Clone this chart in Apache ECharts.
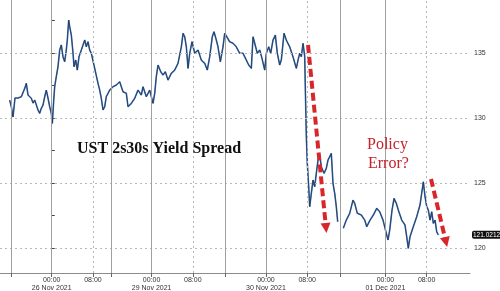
<!DOCTYPE html>
<html>
<head>
<meta charset="utf-8">
<script src="https://cdn.jsdelivr.net/npm/echarts@6/dist/echarts.min.js"></script>
<style>html,body{margin:0;padding:0;background:#fff}#c{width:500px;height:291px}</style>
</head>
<body>
<div id="c"></div>
<script>
// compressed session hours (0 = 26 Nov 2021 00:00)
const times = [-8.16,-7.84,-7.51,-7.13,-6.54,-5.90,-5.24,-4.93,-4.60,-3.96,-3.63,-3.30,-2.66,-2.33,-2.02,-1.69,-1.36,-1.05,-0.72,-0.39,-0.08,0.12,0.39,0.58,0.89,1.22,1.55,1.86,2.19,2.52,2.83,3.03,3.30,3.50,3.81,4.14,4.33,4.66,4.97,5.30,5.75,6.08,6.41,6.72,7.05,7.38,7.69,8.35,8.99,9.32,9.63,9.96,10.29,10.60,11.26,11.90,12.54,13.20,13.84,14.49,14.82,15.46,16.12,16.76,17.40,17.73,18.37,19.03,19.67,20.00,20.31,20.64,21.17,21.61,22.06,22.58,23.22,23.88,24.52,25.17,25.50,25.83,26.14,26.47,26.80,27.24,27.77,28.41,29.05,29.71,30.21,30.68,31.18,31.51,31.96,32.29,32.74,33.26,33.59,33.90,34.56,35.20,35.84,36.50,37.15,37.79,38.25,38.76,39.09,39.42,39.92,40.39,40.83,41.36,41.67,42.14,42.52,42.97,43.42,43.81,44.27,44.58,45.11,45.55,46.21,46.85,47.50,47.83,48.16,48.47,48.80,49.13,49.24,49.44,49.63,49.90,50.10,50.41,50.74,51.07,51.38,51.71,52.04,52.35,52.87,53.32,53.65,54.29,54.62,54.95,55.26,55.53,56.00,56.62,57.20,57.86,58.50,58.83,59.34,60.12,60.78,61.17,61.81,62.45,63.11,63.69,64.33,64.97,65.30,65.63,66.08,66.47,66.91,67.30,67.96,68.60,68.93,69.24,69.57,70.21,70.87,71.51,71.84,72.16,72.49,72.82,73.13,73.46,73.79,74.10,74.43,74.76,75.07];
const spread = [131.38,130.87,130.08,131.54,131.54,131.64,132.28,132.67,131.77,131.52,131.15,131.38,130.62,130.36,130.75,131.00,131.64,132.15,131.54,130.87,130.36,129.59,131.38,132.41,133.18,133.95,135.23,135.62,134.72,134.33,135.23,136.00,137.54,137.02,136.38,134.98,133.95,134.46,133.69,134.72,135.23,135.62,136.00,135.48,135.87,135.23,134.98,133.82,132.67,132.15,131.52,130.62,130.87,131.64,132.15,132.41,132.54,132.79,132.02,131.90,130.87,131.13,131.52,132.15,131.77,132.41,131.64,132.15,131.13,131.90,133.18,134.08,133.56,133.31,133.56,132.92,133.44,133.69,134.21,135.48,136.52,136.25,135.48,133.82,134.98,135.87,134.98,135.23,134.46,134.21,133.69,134.72,136.25,136.64,136.00,135.48,134.33,135.48,136.52,136.38,135.87,135.75,135.48,134.98,134.98,134.46,134.08,133.82,136.25,135.75,134.98,135.23,134.59,133.69,134.98,135.48,134.98,136.00,136.38,134.98,134.08,134.46,136.52,136.00,135.48,134.72,133.82,134.46,134.98,134.72,135.75,134.72,132.41,128.56,126.52,124.72,123.18,124.21,125.23,124.72,125.75,126.77,127.15,126.25,125.75,126.13,126.77,127.28,124.98,124.21,123.18,122.02,null,121.52,122.15,122.67,123.69,123.44,122.67,122.54,122.15,121.64,122.15,122.54,123.05,122.79,122.15,121.13,120.62,121.38,122.92,123.82,123.44,122.92,122.15,121.77,120.87,119.98,120.87,121.64,122.41,123.31,124.21,125.10,123.95,123.18,122.92,122.15,122.79,121.90,122.15,121.25,121.0212];

const tickTimes = [0, 8, 19.4, 27.4, 41.6, 49.6, 64.8, 72.8];
const tickLabels = ['00:00\n26 Nov 2021', '08:00', '00:00\n29 Nov 2021', '08:00', '00:00\n30 Nov 2021', '08:00', '00:00\n01 Dec 2021', '08:00'];
const sessionBreaks = [-7.9, 11.5, 33.65, 56.0];
const yLabels = [120, 125, 130, 135];
const yMinorTicks = [120, 122.5, 125, 127.5, 130, 132.5, 135, 137.5];
// annotation arrows [startTime, startValue, endTime, endValue]
const arrows = [[49.77, 135.62, 53.26, 121.54], [73.65, 125.31, 76.56, 120.46]];
const lastValue = spread[spread.length - 1];

const data = times.map((t, i) => [t, spread[i]]);
const solidX = tickTimes.filter((t, i) => tickLabels[i].startsWith('00:00')).concat(sessionBreaks);
const dottedX = tickTimes.filter((t, i) => !tickLabels[i].startsWith('00:00'));

const chart = echarts.init(document.getElementById('c'), null, {renderer: 'canvas'});
chart.setOption({
  animation: false,
  backgroundColor: '#fff',
  grid: {left: 0, right: 30, top: 0, bottom: 18, outerBoundsMode: 'none', containLabel: false},
  xAxis: {
    type: 'value', min: -10.04, max: 81.22,
    axisLine: {show: true, lineStyle: {color: '#8c8c8c', width: 1}},
    axisTick: {show: true, customValues: tickTimes.concat(sessionBreaks), length: 4, lineStyle: {color: '#666'}},
    axisLabel: {
      customValues: tickTimes, fontSize: 7, color: '#333', lineHeight: 8, margin: 3,
      fontFamily: 'Liberation Sans',
      formatter: v => { const i = tickTimes.findIndex(t => Math.abs(t - v) < 1e-6); return i >= 0 ? tickLabels[i] : ''; }
    },
    splitLine: {show: false}
  },
  yAxis: [
    {
      type: 'value', position: 'right', min: 118.08, max: 139.08,
      axisLine: {show: true, lineStyle: {color: '#8c8c8c', width: 1}},
      axisTick: {show: true, customValues: yMinorTicks, length: 3, lineStyle: {color: '#444'}},
      axisLabel: {customValues: yLabels, fontSize: 7, color: '#333', margin: 4, fontFamily: 'Liberation Sans'},
      splitLine: {show: false}
    },
    {
      type: 'value', position: 'right', offset: 0, min: 118.08, max: 139.08,
      axisLine: {show: false}, axisTick: {show: false}, splitLine: {show: false},
      axisLabel: {
        customValues: [lastValue], formatter: v => v.toFixed(4), margin: 2,
        fontSize: 6.5, color: '#fff', backgroundColor: '#111', padding: [1, 1, 0, 1],
        borderRadius: 2, fontFamily: 'Liberation Sans'
      }
    }
  ],
  series: [
    {
      type: 'line', data: data, showSymbol: false, symbol: 'none', connectNulls: false,
      lineStyle: {color: '#4274b8', width: 1.6}, z: 3,
      markLine: {
        silent: true, symbol: 'none', animation: false,
        label: {show: false},
        data: yLabels.map(v => ({yAxis: v, lineStyle: {color: '#b8b8b8', type: [2, 3], width: 1}}))
          .concat(solidX.map(v => ({xAxis: v, lineStyle: {color: '#a0a0a0', type: 'solid', width: 1}})))
          .concat(dottedX.map(v => ({xAxis: v, lineStyle: {color: '#b8b8b8', type: [2, 3], width: 1}})))
      }
    },
    {
      type: 'line', data: data, showSymbol: false, symbol: 'none', connectNulls: false,
      lineStyle: {color: '#1a2432', width: 0.7, opacity: 0.85}, z: 4
    },
    {
      type: 'line', data: [], z: 6,
      markLine: {
        silent: true, animation: false, symbol: ['none', 'triangle'], symbolSize: [10, 10],
        label: {show: false},
        lineStyle: {color: '#d8262d', width: 4, type: [8, 4]},
        data: arrows.map(a => [{coord: [a[0], a[1]]}, {coord: [a[2], a[3]]}])
      }
    }
  ],
  graphic: [
    {type: 'text', left: 77, top: 141, z: 10, style: {text: 'UST 2s30s Yield Spread', font: 'bold 16px "Liberation Serif"', fill: '#111'}},
    {type: 'text', left: 367, top: 137, z: 10, style: {text: 'Policy', font: '16px "Liberation Serif"', fill: '#c4232b'}},
    {type: 'text', left: 368, top: 156, z: 10, style: {text: 'Error?', font: '16px "Liberation Serif"', fill: '#c4232b'}}
  ]
});
</script>
</body>
</html>
